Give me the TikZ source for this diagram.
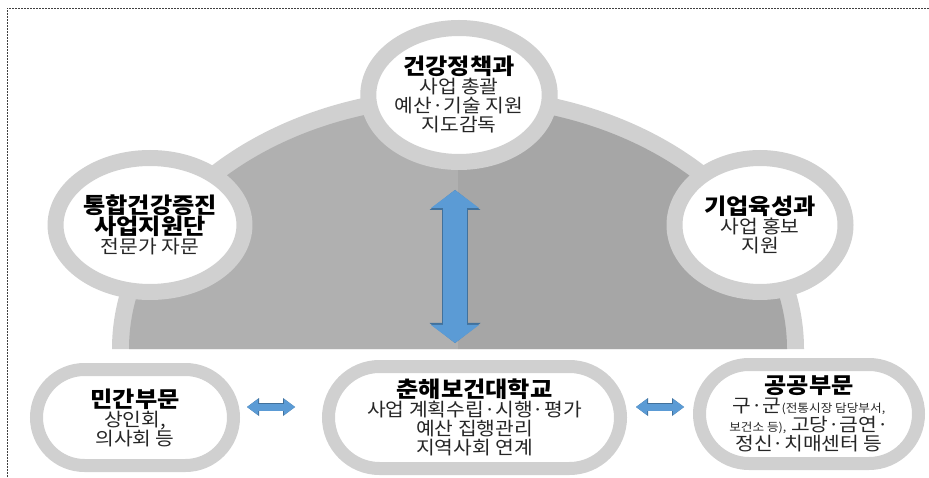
\documentclass[tikz,border=0pt]{standalone}
\usepackage{fontspec}
\setmainfont{Noto Sans CJK KR}[FakeStretch=1.1]
\usetikzlibrary{arrows.meta,positioning,shapes.geometric,shapes.misc}

\definecolor{ringgray}{HTML}{D0D0D0}
\definecolor{domeleft}{HTML}{B0B0B0}
\definecolor{domeright}{HTML}{A6A6A6}
\definecolor{arrowblue}{HTML}{5B9BD5}
\definecolor{arrowedge}{HTML}{41719C}
\definecolor{bodytext}{HTML}{262626}

\newcommand{\ttl}[1]{{\fontsize{22}{19}\selectfont\bfseries\color{black}#1}}
\newcommand{\sml}[1]{{\fontsize{11.5}{19}\selectfont #1}}

\begin{document}
\begin{tikzpicture}[
    x=1pt, y=1pt,
    circ/.style={ellipse, draw=ringgray, line width=16pt, outer sep=8pt,
        fill=white, minimum width=171pt, minimum height=134pt, inner sep=0pt,
        align=center, text=bodytext, font=\fontsize{18.5}{19}\selectfont},
    pill/.style={rounded rectangle, draw=ringgray, line width=13pt, outer sep=6.5pt,
        fill=white, inner sep=0pt, align=center, text=bodytext,
        font=\fontsize{18.5}{19}\selectfont},
    vlink/.style={draw=arrowblue, line width=24pt,
        {Triangle[width=48pt,length=18pt,line width=0pt]}-{Triangle[width=48pt,length=18pt,line width=0pt]},
        preaction={draw=arrowedge, line width=26pt,
        {Triangle[width=51pt,length=20pt,line width=0pt]}-{Triangle[width=51pt,length=20pt,line width=0pt]}}},
    hlink/.style={draw=arrowblue, line width=7pt,
        {Triangle[width=16pt,length=11pt,line width=0pt]}-{Triangle[width=16pt,length=11pt,line width=0pt]},
        preaction={draw=arrowedge, line width=8.5pt,
        {Triangle[width=18pt,length=12pt,line width=0pt]}-{Triangle[width=18pt,length=12pt,line width=0pt]}}},
    border/.style={draw=black!75, line width=0.8pt, dash pattern=on 2pt off 1pt}
]
\useasboundingbox (0,0) rectangle (929,477);
\draw[border] (7,0) -- (7,469) -- (929,469);

% dome
\fill[ringgray] (112,128) arc[start angle=180, end angle=0, x radius=346, y radius=261] -- cycle;
\fill[domeleft] (129,128) arc[start angle=180, end angle=90, x radius=329, y radius=244] -- (458,128) -- cycle;
\fill[domeright] (458,128) -- (458,372) arc[start angle=90, end angle=0, x radius=329, y radius=244] -- cycle;

% circles
\node[circ] (policy) at (459,382) {\ttl{건강정책과}\\사업 총괄\\예산·기술 지원\\지도감독};
\node[circ] (support) at (150,252) {\ttl{통합건강증진}\\\ttl{사업지원단}\\전문가 자문};
\node[circ] (industry) at (760,252) {\ttl{기업육성과}\\사업 홍보\\지원};

% bottom row
\node[pill, minimum width=292pt, minimum height=102pt] (college) at (474.5,59.5)
    {\ttl{춘해보건대학교}\\사업 계획수립·시행·평가\\예산 집행관리\\지역사회 연계};
\node[pill, minimum width=197pt, minimum height=96pt, left=82pt of college] (private)
    {\ttl{민간부문}\\상인회,\\의사회 등};
\node[pill, minimum width=219pt, minimum height=99pt, right=66pt of college, yshift=3.5pt] (public)
    {\ttl{공공부문}\\구·군\sml{(전통시장 담당부서,}\\\sml{보건소 등),} 고당·금연·\\정신·치매센터 등};

% arrows
\draw[vlink, shorten <=20pt, shorten >=17pt] ([xshift=-4pt]policy.south) -- ([xshift=-4pt]policy.south |- college.north);
\draw[hlink, shorten <=7pt, shorten >=27pt] ([yshift=10.5pt]private.east) -- ([yshift=10.5pt]private.east -| college.west);
\draw[hlink, shorten <=9pt, shorten >=9pt] ([yshift=10.5pt]college.east) -- ([yshift=10.5pt]college.east -| public.west);
\end{tikzpicture}
\end{document}
